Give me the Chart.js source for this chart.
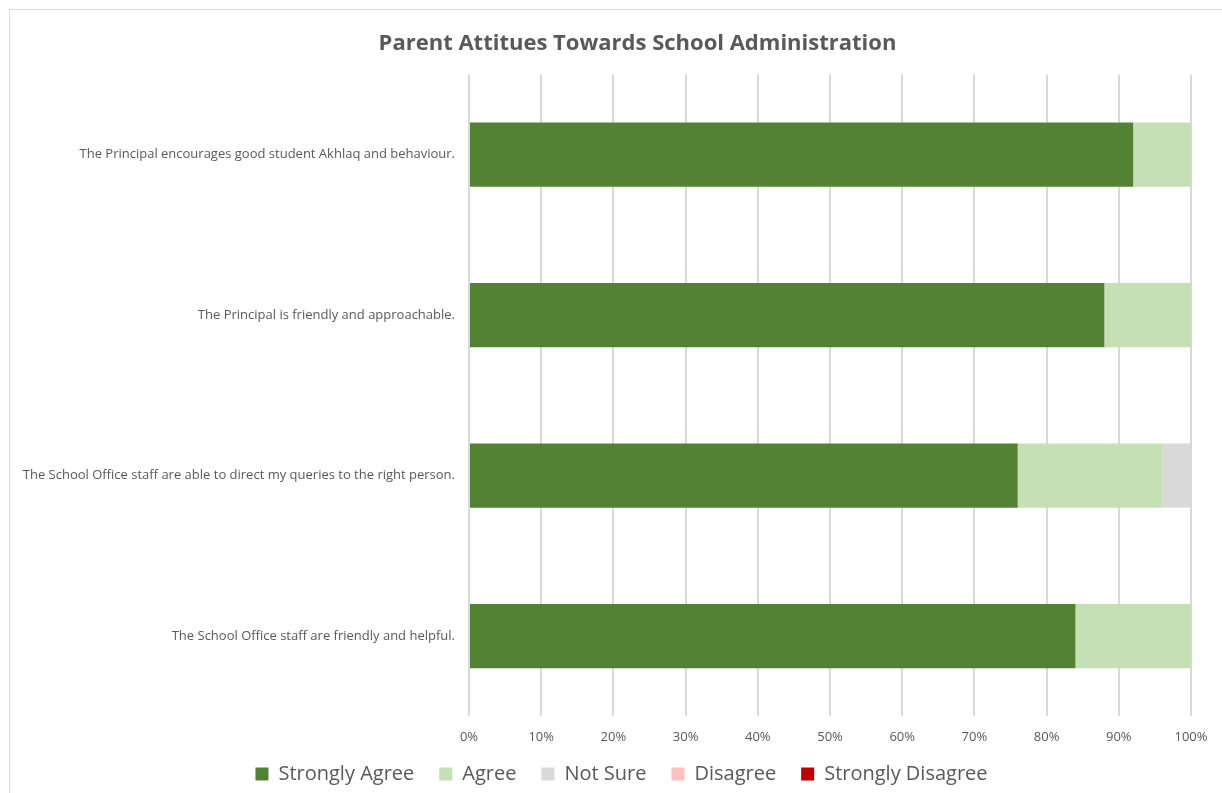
<!DOCTYPE html>
<html>
<head>
<meta charset="utf-8">
<script src="https://cdn.jsdelivr.net/npm/chart.js@4"></script>
<style>
  html, body { margin: 0; padding: 0; background: #fff; overflow: hidden; }
  #box {
    position: absolute; left: 9px; top: 9px;
    width: 1240px; height: 830px;
    border: 1px solid #d9d9d9;
  }
  #wrap { position: absolute; left: 0; top: 0; width: 1212px; height: 803px; }
</style>
</head>
<body>
<div id="box"><div id="wrap"><canvas id="myChart"></canvas></div></div>
<script>
  // survey statements, top to bottom
  var questions = [
    'The Principal encourages good student Akhlaq and behaviour.',
    'The Principal is friendly and approachable.',
    'The School Office staff are able to direct my queries to the right person.',
    'The School Office staff are friendly and helpful.'
  ];
  // percent of parents per answer
  var stronglyAgree = [92, 88, 76, 84];
  var agree = [8, 12, 20, 16];
  var notSure = [0, 0, 4, 0];
  var disagree = [0, 0, 0, 0];
  var stronglyDisagree = [0, 0, 0, 0];
  var xTicks = ['0%', '10%', '20%', '30%', '40%', '50%', '60%', '70%', '80%', '90%', '100%'];

  var grey = '#595959';
  var fontFam = "'Open Sans', sans-serif";

  function series(label, data, color) {
    return {
      label: label,
      data: data,
      backgroundColor: color,
      borderWidth: 0,
      barPercentage: 0.4,
      categoryPercentage: 1
    };
  }

  // Excel centres title and legend over the whole frame, not the padded area
  var nudge = {
    id: 'nudge',
    afterLayout: function(chart) {
      chart.titleBlock.left += 37;
      chart.titleBlock.right += 37;
      chart.legend.left += 21;
      chart.legend.right += 21;
      chart.legend.top -= 19;
      chart.legend.bottom -= 19;
    }
  };

  var ctx = 'myChart';
  var myChart = new Chart(ctx, {
    type: 'bar',
    data: {
      labels: questions,
      datasets: [
        series('Strongly Agree', stronglyAgree, '#548235'),
        series('Agree', agree, '#c5e0b4'),
        series('Not Sure', notSure, '#d9d9d9'),
        series('Disagree', disagree, '#ffc0c0'),
        series('Strongly Disagree', stronglyDisagree, '#c00000')
      ]
    },
    plugins: [nudge],
    options: {
      indexAxis: 'y',
      responsive: true,
      maintainAspectRatio: false,
      animation: false,
      layout: { padding: { left: 0, right: 31, top: 0, bottom: 0 } },
      scales: {
        x: {
          stacked: true,
          min: 0,
          max: 100,
          grid: { color: '#d9d9d9', lineWidth: 2, drawTicks: false },
          border: { display: false },
          ticks: {
            stepSize: 10,
            padding: 13,
            color: grey,
            font: { family: fontFam, size: 13 },
            callback: function(value, index) { return xTicks[index]; }
          }
        },
        y: {
          stacked: true,
          grid: { display: false, drawTicks: false },
          border: { display: false },
          afterFit: function(scale) { scale.width = 459; },
          ticks: {
            padding: 14,
            color: grey,
            font: { family: fontFam, size: 13 }
          }
        }
      },
      plugins: {
        title: {
          display: true,
          text: 'Parent Attitues Towards School Administration',
          color: grey,
          font: { family: fontFam, size: 22, weight: 'bold' },
          padding: { top: 21, bottom: 17 }
        },
        legend: {
          display: true,
          position: 'bottom',
          labels: {
            color: grey,
            boxWidth: 13,
            boxHeight: 13,
            padding: 25,
            font: { family: fontFam, size: 20 }
          }
        },
        tooltip: { enabled: false }
      }
    }
  });
</script>
</body>
</html>
